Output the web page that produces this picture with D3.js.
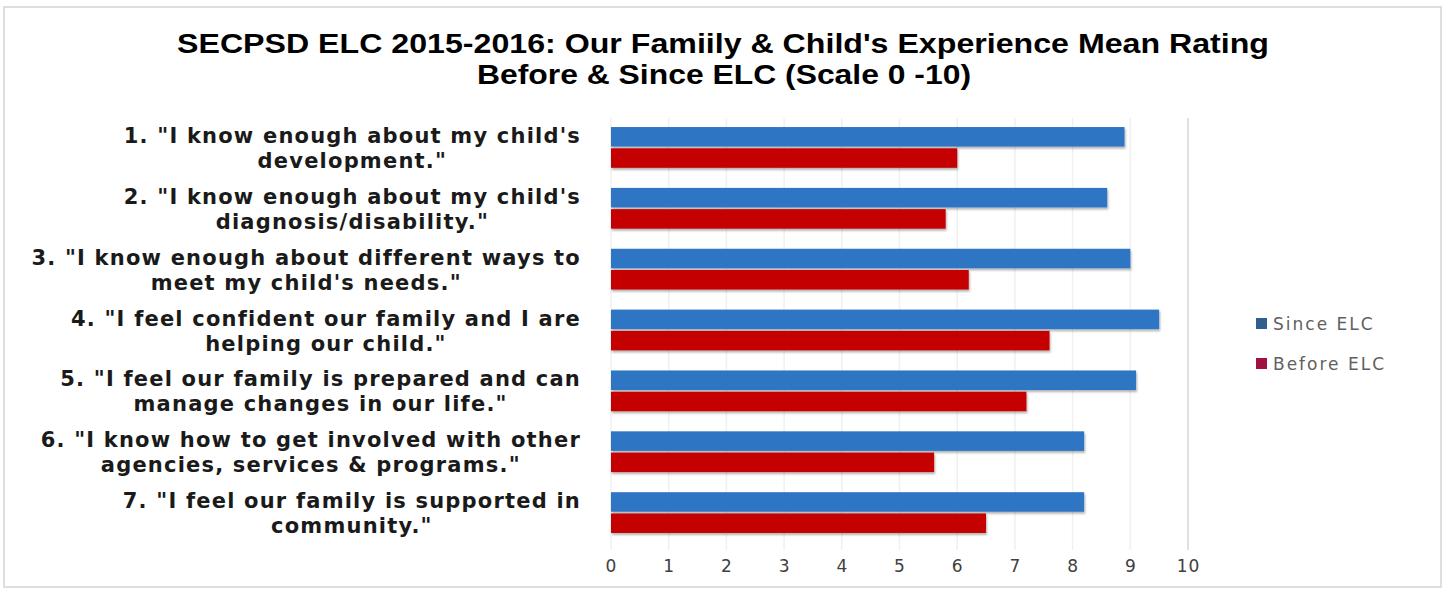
<!DOCTYPE html>
<html lang="en">
<head>
    <meta charset="UTF-8">
    <title>SECPSD ELC 2015-2016</title>
    <style>
        body { margin: 0; background: #ffffff; }
        .title { font-family: "Liberation Sans Narrow", "Liberation Sans", sans-serif; font-weight: bold; fill: #000000; }
        .cat { font-family: "DejaVu Sans", sans-serif; font-weight: bold; font-size: 21px; fill: #1a1a1a; letter-spacing: 1.2px; }
        .tick text { font-family: "DejaVu Sans", sans-serif; font-size: 17px; fill: #404040; letter-spacing: 1px; }
        .legend text { font-family: "DejaVu Sans", sans-serif; font-size: 17px; fill: #606060; letter-spacing: 2px; }
    </style>
</head>
<body>
    <div id="chart"></div>

    <script src="https://d3js.org/d3.v7.min.js"></script>
    <script>
        const width = 1447;
        const height = 590;

        // data
        const categories = [
            ["1. \"I know enough about my child's", "development.\""],
            ["2. \"I know enough about my child's", "diagnosis/disability.\""],
            ["3. \"I know enough about different ways to", "meet my child's needs.\""],
            ["4. \"I feel confident our family and I are", "helping our child.\""],
            ["5. \"I feel our family is prepared and can", "manage changes in our life.\""],
            ["6. \"I know how to get involved with other", "agencies, services & programs.\""],
            ["7. \"I feel our family is supported in", "community.\""]
        ];
        const sinceELC = [8.9, 8.6, 9.0, 9.5, 9.1, 8.2, 8.2];
        const beforeELC = [6.0, 5.8, 6.2, 7.6, 7.2, 5.6, 6.5];
        const seriesNames = ["Since ELC", "Before ELC"];
        const xTicks = [0, 1, 2, 3, 4, 5, 6, 7, 8, 9, 10];

        const colors = { "Since ELC": "#2e74c4", "Before ELC": "#c40000" };
        const legendColors = { "Since ELC": "#2f5f8c", "Before ELC": "#a01040" };

        const svg = d3.select("#chart")
            .append("svg")
            .attr("width", width)
            .attr("height", height);

        const defs = svg.append("defs");
        defs.append("filter")
            .attr("id", "shadow")
            .attr("x", "-5%").attr("y", "-30%")
            .attr("width", "110%").attr("height", "170%")
            .append("feDropShadow")
            .attr("dx", 1).attr("dy", 2)
            .attr("stdDeviation", 1.2)
            .attr("flood-color", "#000")
            .attr("flood-opacity", 0.3);

        // chart frame
        svg.append("rect")
            .attr("x", 4).attr("y", 7)
            .attr("width", 1437).attr("height", 580)
            .attr("fill", "#ffffff")
            .attr("stroke", "#d4d4d4")
            .attr("stroke-width", 1.5);

        // title
        svg.append("text")
            .attr("class", "title")
            .attr("x", 723).attr("y", 53)
            .attr("text-anchor", "middle")
            .attr("font-size", 27)
            .attr("textLength", 1092)
            .attr("lengthAdjust", "spacingAndGlyphs")
            .text("SECPSD ELC 2015-2016: Our Famiily & Child's Experience Mean Rating");
        svg.append("text")
            .attr("class", "title")
            .attr("x", 724).attr("y", 84)
            .attr("text-anchor", "middle")
            .attr("font-size", 27)
            .attr("textLength", 494)
            .attr("lengthAdjust", "spacingAndGlyphs")
            .text("Before & Since ELC (Scale 0 -10)");

        const x = d3.scaleLinear()
            .domain([0, 10])
            .range([611, 1188]);

        const y = d3.scaleBand()
            .domain(d3.range(categories.length))
            .range([117, 543])
            .paddingInner(0.33)
            .paddingOuter(0.165);

        const ySub = d3.scaleBand()
            .domain(seriesNames)
            .range([0, y.bandwidth()])
            .paddingInner(0.08);

        // gridlines
        svg.append("g")
            .selectAll("line")
            .data(xTicks)
            .enter()
            .append("line")
            .attr("x1", d => x(d))
            .attr("x2", d => x(d))
            .attr("y1", 118)
            .attr("y2", 550)
            .attr("stroke", d => d === 10 ? "#d6d6d6" : "#f0f0f0")
            .attr("stroke-width", 1.5);

        // bars
        const rows = categories.map((c, i) => ({
            i: i,
            values: [
                { key: "Since ELC", value: sinceELC[i] },
                { key: "Before ELC", value: beforeELC[i] }
            ]
        }));

        const groups = svg.append("g")
            .selectAll("g")
            .data(rows)
            .enter()
            .append("g")
            .attr("transform", d => `translate(0, ${y(d.i)})`);

        groups.selectAll("rect")
            .data(d => d.values)
            .enter()
            .append("rect")
            .attr("x", x(0))
            .attr("y", d => ySub(d.key))
            .attr("width", d => x(d.value) - x(0))
            .attr("height", ySub.bandwidth())
            .attr("fill", d => colors[d.key])
            .attr("filter", "url(#shadow)");

        // x axis labels
        const xAxis = d3.axisBottom(x)
            .tickValues(xTicks)
            .tickSize(0)
            .tickPadding(0)
            .tickFormat(d3.format("d"));

        svg.append("g")
            .attr("transform", "translate(0, 560)")
            .call(xAxis)
            .call(g => g.select(".domain").remove());

        // category labels, two lines centered in a block right-aligned at 580
        const labelRight = 581;
        const cat = svg.append("g")
            .selectAll("text")
            .data(categories)
            .enter()
            .append("text")
            .attr("class", "cat")
            .attr("text-anchor", "middle");

        cat.each(function(d, i) {
            const t = d3.select(this);
            const cy = y(i) + y.bandwidth() / 2;
            d.forEach((line, j) => {
                t.append("tspan")
                    .attr("y", cy + 8 + (j - 0.5) * 25)
                    .text(line);
            });
            const w = d3.max(t.selectAll("tspan").nodes(), n => n.getComputedTextLength());
            t.selectAll("tspan").attr("x", labelRight - w / 2);
        });

        // legend
        const legend = svg.append("g")
            .attr("class", "legend");

        seriesNames.forEach((name, index) => {
            legend.append("rect")
                .attr("x", 1256)
                .attr("y", 318 + index * 40)
                .attr("width", 11)
                .attr("height", 11)
                .attr("fill", legendColors[name]);

            legend.append("text")
                .attr("x", 1273)
                .attr("y", 330 + index * 40)
                .text(name);
        });
    </script>
</body>
</html>
